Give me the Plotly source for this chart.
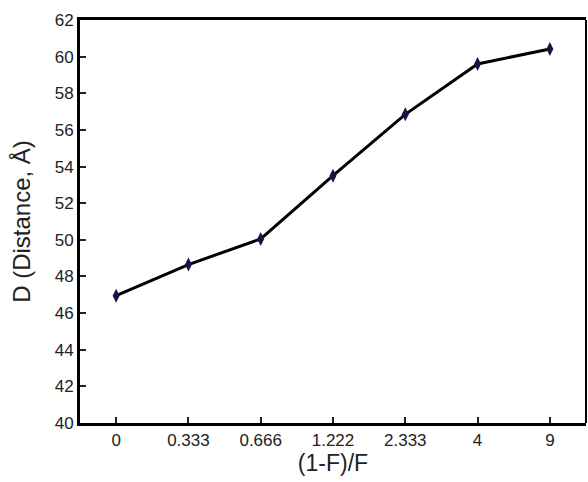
import plotly.graph_objects as go

# Ratio (1-F)/F categories and measured distances
ratio_labels = ["0", "0.333", "0.666", "1.222", "2.333", "4", "9"]
distance = [46.95, 48.65, 50.05, 53.5, 56.85, 59.6, 60.42]

fig = go.Figure()
fig.add_trace(go.Scatter(
    x=ratio_labels,
    y=distance,
    mode="lines+markers",
    line=dict(color="black", width=3),
    marker=dict(symbol="diamond-tall", size=10, color="#15154a",
                line=dict(width=0)),
    showlegend=False,
))

font_family = "Liberation Sans, Arial, sans-serif"

fig.update_layout(
    width=588,
    height=482,
    margin=dict(l=80, r=2, t=20, b=59),
    paper_bgcolor="white",
    plot_bgcolor="white",
    font=dict(family=font_family, color="#222222", size=17),
    xaxis=dict(
        type="category",
        range=[-0.5, 6.5],
        showgrid=False,
        zeroline=False,
        showline=True,
        linecolor="black",
        linewidth=3,
        mirror=True,
        ticks="inside",
        ticklen=6,
        tickwidth=2,
        tickcolor="#222222",
        tickfont=dict(size=17),
        title=dict(text="(1-F)/F", font=dict(size=23), standoff=4),
    ),
    yaxis=dict(
        range=[40, 62],
        tickvals=list(range(40, 63, 2)),
        showgrid=False,
        zeroline=False,
        showline=True,
        linecolor="black",
        linewidth=3,
        ticks="inside",
        ticklen=6,
        tickwidth=2,
        tickcolor="#222222",
        tickfont=dict(size=17),
        title=dict(text="D (Distance, Å)", font=dict(size=24), standoff=18),
    ),
    shapes=[dict(
        type="line", xref="paper", yref="paper",
        x0=1, x1=1, y0=0, y1=1,
        line=dict(color="black", width=2),
    )],
)

fig.write_html("out.html")
